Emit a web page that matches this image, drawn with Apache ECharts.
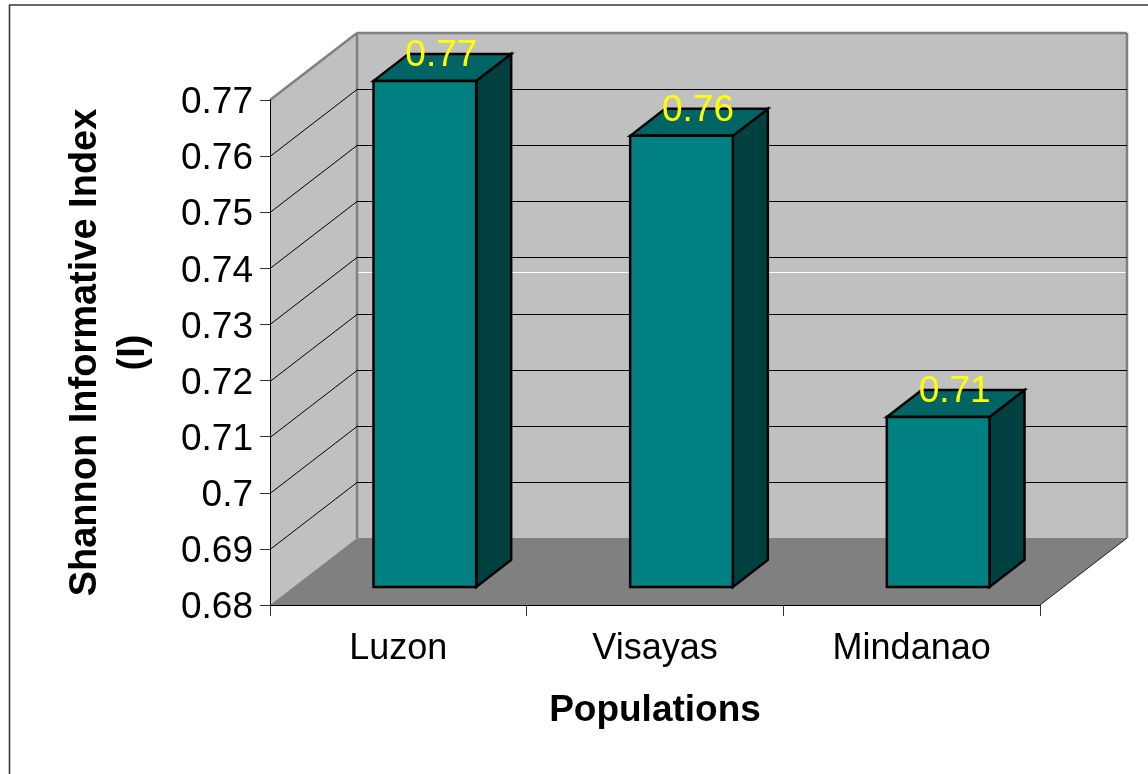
<!DOCTYPE html>
<html>
<head>
<meta charset="utf-8">
<style>html,body{margin:0;padding:0;background:#fff}#c{width:1148px;height:774px}</style>
<script src="https://cdn.jsdelivr.net/npm/echarts@6/dist/echarts.min.js"></script>
</head>
<body>
<div id="c"></div>
<script>
const categories = ['Luzon', 'Visayas', 'Mindanao'];
const barValues = [0.7702, 0.7604, 0.7103];
const innerTicks = [0.69, 0.70, 0.71, 0.72, 0.73, 0.74, 0.75, 0.76];
const yMin = 0.68, yMax = 0.77, yStep = 0.01;
const xTitle = 'Populations';
const yTitle = 'Shannon Informative Index\n(I)';

const FONT = '"Liberation Sans", Arial, sans-serif';
const WALL_DX = 87, WALL_DY = -67;   // oblique depth of the plot box
const BAR_DX = 35, BAR_DY = -27;     // oblique depth of a bar
const BAR_OFF_X = 26.5, BAR_OFF_Y = -18; // where bars stand on the floor

function poly(points, fill, stroke, lw) {
  return { type: 'polygon', shape: { points }, style: { fill, stroke: stroke || 'none', lineWidth: lw || 0, lineJoin: 'miter' } };
}
function line(x1, y1, x2, y2, stroke, lw) {
  return { type: 'line', shape: { x1, y1, x2, y2 }, style: { stroke, lineWidth: lw } };
}

function renderWalls(params) {
  const c = params.coordSys;
  const L = c.x, R = c.x + c.width, T = c.y, B = c.y + c.height;
  const dx = WALL_DX, dy = WALL_DY;
  return { type: 'group', silent: true, children: [
    poly([[L, T], [L + dx, T + dy], [L + dx, B + dy], [L, B]], '#C0C0C0'),
    poly([[L + dx, T + dy], [R + dx, T + dy], [R + dx, B + dy], [L + dx, B + dy]], '#C0C0C0'),
    poly([[L, B], [L + dx, B + dy], [R + dx, B + dy], [R, B]], '#808080'),
    line(L + dx, 272.5, R + dx, 272.5, '#FFFFFF', 1),
    line(L, T, L + dx, T + dy, '#808080', 2.5),
    line(L + dx, T + dy, R + dx, T + dy, '#808080', 2.5),
    line(L + dx, T + dy, L + dx, B + dy, '#808080', 2.5),
    line(R + dx, T + dy, R + dx, B + dy, '#808080', 2.5),
    line(R, B, R + dx, B + dy, '#202020', 1)
  ]};
}

function renderGridline(params, api) {
  const c = params.coordSys;
  const y = Math.round(api.coord([0, api.value(0)])[1]) + 0.5;
  const L = c.x, R = c.x + c.width;
  return { type: 'group', silent: true, children: [
    line(L, y, L + WALL_DX, y + WALL_DY, '#000', 1),
    line(L + WALL_DX, y + WALL_DY, R + WALL_DX, y + WALL_DY, '#000', 1)
  ]};
}

function renderBar(params, api) {
  const idx = api.value(0), v = api.value(1);
  const top = api.coord([idx, v]);
  const base = api.coord([idx, yMin]);
  const w = api.size([1, 0])[0] * 0.4;
  const x0 = top[0] + BAR_OFF_X - w / 2, x1 = x0 + w;
  const yT = top[1] + BAR_OFF_Y, yB = base[1] + BAR_OFF_Y;
  const dx = BAR_DX, dy = BAR_DY;
  return { type: 'group', silent: true, children: [
    poly([[x1, yT], [x1 + dx, yT + dy], [x1 + dx, yB + dy], [x1, yB]], '#004040', '#000', 2.5),
    poly([[x0, yT], [x0 + dx, yT + dy], [x1 + dx, yT + dy], [x1, yT]], '#006464', '#000', 2.5),
    poly([[x0, yT], [x1, yT], [x1, yB], [x0, yB]], '#008080', '#000', 2.5),
    { type: 'text', z2: 50, style: {
        text: v.toFixed(2), x: (x0 + x1) / 2 + 16.5, y: yT - 25,
        fill: '#FFFF00', font: '37px ' + FONT, align: 'center', verticalAlign: 'middle' } }
  ]};
}

const chart = echarts.init(document.getElementById('c'), null, { renderer: 'canvas' });
chart.setOption({
  animation: false,
  backgroundColor: '#FFFFFF',
  graphic: [{ type: 'rect', silent: true, shape: { x: 9.5, y: 5, width: 1300, height: 900 },
              style: { fill: 'none', stroke: '#3A3A3A', lineWidth: 1.6 } }],
  grid: { left: 270, right: 108, top: 100, height: 505, containLabel: false },
  xAxis: {
    type: 'category', data: categories, z: 10,
    axisLine: { show: true, lineStyle: { color: '#000', width: 1 } },
    axisTick: { show: true, length: 11, lineStyle: { color: '#333', width: 1 } },
    axisLabel: { color: '#000', fontFamily: FONT, fontSize: 36, margin: 26 },
    name: xTitle, nameLocation: 'middle', nameGap: 87,
    nameTextStyle: { color: '#000', fontFamily: FONT, fontWeight: 'bold', fontSize: 37 },
    splitLine: { show: false }
  },
  yAxis: {
    type: 'value', min: yMin, max: yMax, interval: yStep, z: 10,
    axisLine: { show: true, lineStyle: { color: '#000', width: 1 } },
    axisTick: { show: true, length: 10, lineStyle: { color: '#333', width: 1 } },
    axisLabel: { color: '#000', fontFamily: FONT, fontSize: 37, margin: 17, verticalAlign: 'top', lineHeight: 6 },
    name: yTitle, nameLocation: 'middle', nameRotate: 90, nameGap: 112,
    nameTextStyle: { color: '#000', fontFamily: FONT, fontWeight: 'bold', fontSize: 38, lineHeight: 48 },
    splitLine: { show: false }
  },
  series: [
    { type: 'custom', name: 'walls', z: 1, silent: true, renderItem: renderWalls, data: [[0]], encode: { x: 0 } , clip: false},
    { type: 'custom', name: 'gridlines', z: 2, silent: true, renderItem: renderGridline,
      data: innerTicks.map(t => [t]), encode: { y: 0 }, clip: false },
    { type: 'custom', name: 'Shannon I', z: 3, silent: true, renderItem: renderBar,
      data: barValues.map((v, i) => [i, v]), encode: { x: 0, y: 1 }, clip: false }
  ]
});
</script>
</body>
</html>
